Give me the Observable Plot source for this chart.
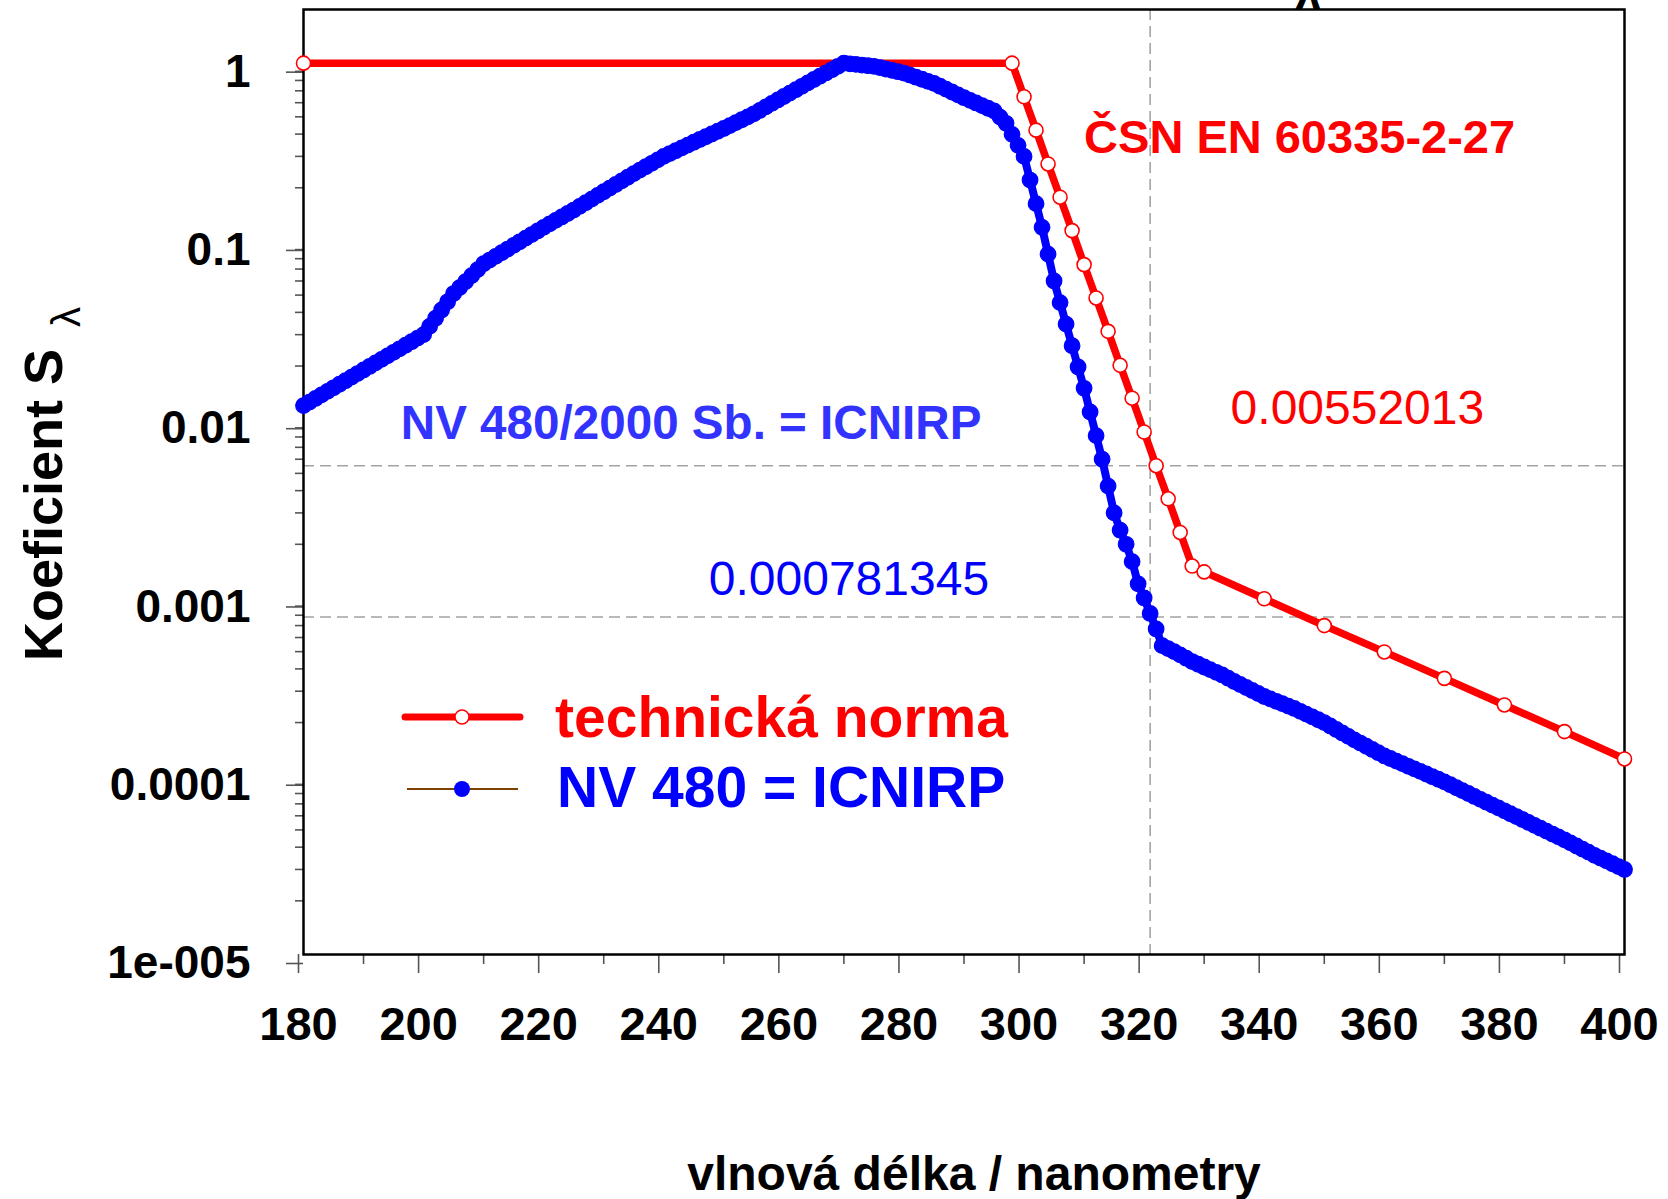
<!DOCTYPE html>
<html>
<head>
<meta charset="utf-8">
<script src="https://cdn.jsdelivr.net/npm/d3@7"></script>
<script src="https://cdn.jsdelivr.net/npm/@observablehq/plot@0.6"></script>
<style>
  html, body { margin: 0; padding: 0; background: #ffffff; }
  #chart svg { display: block; }
</style>
</head>
<body>
<div id="chart"></div>
<script>
// ---- Data ----
const nvWavelengths = [
  180,181,182,183,184,185,186,187,188,189,190,191,192,193,194,195,196,197,198,199,
  200,201,202,203,204,205,206,207,208,209,210,211,212,213,214,215,216,217,218,219,
  220,221,222,223,224,225,226,227,228,229,230,231,232,233,234,235,236,237,238,239,
  240,241,242,243,244,245,246,247,248,249,250,251,252,253,254,255,256,257,258,259,
  260,261,262,263,264,265,266,267,268,269,270,271,272,273,274,275,276,277,278,279,
  280,281,282,283,284,285,286,287,288,289,290,291,292,293,294,295,296,297,298,299,
  300,301,302,303,304,305,306,307,308,309,310,311,312,313,314,315,316,317,318,319,
  320,321,322,323,324,325,326,327,328,329,330,331,332,333,334,335,336,337,338,339,
  340,341,342,343,344,345,346,347,348,349,350,351,352,353,354,355,356,357,358,359,
  360,361,362,363,364,365,366,367,368,369,370,371,372,373,374,375,376,377,378,379,
  380,381,382,383,384,385,386,387,388,389,390,391,392,393,394,395,396,397,398,399,
  400
];
const nvValues = [
  0.0120,0.01256,0.01316,0.01378,0.01442,0.01510,0.01581,0.01655,0.01733,0.01815,
  0.0190,0.01989,0.02082,0.02179,0.02281,0.02388,0.02499,0.02616,0.02738,0.02866,
  0.0300,0.03336,0.03709,0.04124,0.04586,0.0510,0.05509,0.05951,0.06428,0.06943,
  0.0750,0.07863,0.08244,0.08643,0.09062,0.0950,0.09954,0.1043,0.1093,0.1145,
  0.120,0.1255,0.1312,0.1372,0.1434,0.150,0.1573,0.1649,0.1728,0.1812,
  0.190,0.1991,0.2086,0.2186,0.2291,0.240,0.2510,0.2624,0.2744,0.2869,
  0.300,0.3111,0.3227,0.3347,0.3471,0.360,0.3730,0.3865,0.4005,0.4150,
  0.430,0.4465,0.4637,0.4815,0.500,0.520,0.5437,0.5685,0.5945,0.6216,
  0.650,0.6793,0.7098,0.7418,0.7752,0.810,0.8449,0.8812,0.9191,0.9587,
  1.000,0.9919,0.9838,0.9758,0.9679,0.960,0.9434,0.9272,0.9112,0.8955,
  0.880,0.8568,0.8342,0.8122,0.7908,0.770,0.7420,0.7151,0.6892,0.6641,
  0.640,0.6186,0.5980,0.5780,0.5587,0.540,0.4984,0.460,0.3989,0.3459,
  0.300,0.2210,0.1629,0.120,0.08485,0.060,0.0454,0.03436,0.026,0.01975,
  0.015,0.01105,0.008143,0.006,0.004243,0.003,0.0024,0.0020,0.0016,0.0012,
  0.0010,0.0008185,0.00067,0.00054,0.0005196,0.0005,0.0004791,0.0004592,0.00044,0.0004247,
  0.00041,0.0003962,0.0003829,0.00037,0.0003547,0.00034,0.000327,0.0003146,0.0003027,0.0002911,
  0.00028,0.0002715,0.0002633,0.0002553,0.0002475,0.00024,0.0002314,0.0002231,0.0002151,0.0002074,
  0.0002,0.0001913,0.0001829,0.0001749,0.0001673,0.00016,0.0001535,0.0001473,0.0001413,0.0001355,
  0.00013,0.0001257,0.0001216,0.0001176,0.0001137,0.00011,0.0001064,0.0001029,0.0000994,0.0000962,
  0.000093,0.0000896,0.0000862,0.000083,0.00008,0.000077,0.0000742,0.0000715,0.0000689,0.0000664,
  0.000064,0.0000616,0.0000594,0.0000572,0.0000551,0.000053,0.0000511,0.0000492,0.0000474,0.0000457,
  0.000044,0.0000423,0.0000406,0.000039,0.0000375,0.000036,0.0000347,0.0000335,0.0000323,0.0000311,
  0.00003
];
const normWavelengths = [180, 298, 300, 302, 304, 306, 308, 310, 312, 314, 316, 318, 320, 322, 324, 326, 328, 330, 340, 350, 360, 370, 380, 390, 400];
const normValues = [1, 1, 0.648, 0.421, 0.272, 0.177, 0.115, 0.0741, 0.0482, 0.0313, 0.0202, 0.0132, 0.00853, 0.00552, 0.00360, 0.00233, 0.00151, 0.00140, 0.00099, 0.000700, 0.000498, 0.000354, 0.000251, 0.000178, 0.000125];

const xTicks = [180, 200, 220, 240, 260, 280, 300, 320, 340, 360, 380, 400];
const xMinorTicks = [190, 210, 230, 250, 270, 290, 310, 330, 350, 370, 390];
const yTicks = [1e-5, 1e-4, 1e-3, 1e-2, 1e-1, 1];
const yTickLabels = ["1e-005", "0.0001", "0.001", "0.01", "0.1", "1"];
const yMinorTicks = [
  2e-5,3e-5,4e-5,5e-5,6e-5,7e-5,8e-5,9e-5,
  2e-4,3e-4,4e-4,5e-4,6e-4,7e-4,8e-4,9e-4,
  2e-3,3e-3,4e-3,5e-3,6e-3,7e-3,8e-3,9e-3,
  2e-2,3e-2,4e-2,5e-2,6e-2,7e-2,8e-2,9e-2,
  0.2,0.3,0.4,0.5,0.6,0.7,0.8,0.9
];
const refLevels = [0.00552013, 0.000781345];
const refLevelLabels = ["0.00552013", "0.000781345"];
const refWavelengths = [321];
const seriesNames = ["technická norma", "NV 480 = ICNIRP"];
const annotationTitles = ["ČSN EN 60335-2-27", "NV 480/2000 Sb. = ICNIRP"];
const xLabel = "vlnová délka / nanometry";
const yLabel = "Koeficient S";
const yLabelSub = "λ";

// ---- Tables built from the arrays ----
const nv = nvWavelengths.map((x, i) => ({x, y: nvValues[i]}));
const norm = normWavelengths.map((x, i) => ({x, y: normValues[i]}));

const FONT = "'Liberation Sans', Arial, sans-serif";
const RED = "#ff0000", BLUE = "#0000ff";
const W = 1668, H = 1199;

const plot = Plot.plot({
  width: W,
  height: H,
  marginLeft: 303,
  marginRight: 44,
  marginTop: 9,
  marginBottom: 245,
  style: {fontFamily: FONT, background: "#ffffff", overflow: "visible", color: "black"},
  x: {domain: [180, 400]},
  y: {type: "log", domain: [1e-5, 2]},
  marks: [
    Plot.ruleY(refLevels, {stroke: "#a3a3a3", strokeWidth: 1.6, strokeDasharray: "11,6"}),
    Plot.ruleX(refWavelengths, {stroke: "#a3a3a3", strokeWidth: 1.6, strokeDasharray: "11,6"}),
    Plot.axisX({ticks: xMinorTicks, tickSize: 10, fill: "none", stroke: "#555", strokeWidth: 1.6, label: null}),
    Plot.axisX({ticks: xTicks, tickSize: 19, tickPadding: 33, tickFormat: d => String(d),
      fontSize: 47, fontWeight: "bold", fill: "black", stroke: "#555", strokeWidth: 1.6, label: null, dx: -5}),
    Plot.axisY({ticks: yMinorTicks, tickSize: 8, fill: "none", stroke: "#555", strokeWidth: 1.6, label: null}),
    Plot.axisY({ticks: yTicks, tickSize: 17, tickPadding: 36,
      tickFormat: d => yTickLabels[yTicks.indexOf(d)],
      fontSize: 46, fontWeight: "bold", fill: "black", stroke: "#555", strokeWidth: 1.6, label: null, dy: 9}),
    Plot.frame({stroke: "black", strokeWidth: 2.5}),
    Plot.line(norm, {x: "x", y: "y", stroke: RED, strokeWidth: 7.5}),
    Plot.line(nv, {x: "x", y: "y", stroke: BLUE, strokeWidth: 8}),
    Plot.dot(nv, {x: "x", y: "y", r: 7.8, fill: BLUE, stroke: BLUE, strokeWidth: 1.2}),
    Plot.dot(norm, {x: "x", y: "y", r: 7, fill: "white", stroke: RED, strokeWidth: 1.6}),
    Plot.text([annotationTitles[0]], {x: 310, y: 0.379, text: d => d, textAnchor: "start",
      fontSize: 47, fontWeight: "bold", fill: RED}),
    Plot.text([annotationTitles[1]], {x: 196.2, y: 0.00947, text: d => d, textAnchor: "start",
      fontSize: 47.6, fontWeight: "bold", fill: "#3333ff"}),
    Plot.text([refLevelLabels[0]], {x: 334.4, y: 0.0115, text: d => d, textAnchor: "start",
      fontSize: 48, fill: RED}),
    Plot.text([refLevelLabels[1]], {x: 247.5, y: 0.00126, text: d => d, textAnchor: "start",
      fontSize: 48, fill: BLUE})
  ]
});

document.getElementById("chart").appendChild(plot);

// ---- Legend, axis titles (added on top of the Plot SVG) ----
const svg = d3.select(plot);
const g = svg.append("g").attr("font-family", FONT).attr("text-anchor", "start");

// legend: technická norma
g.append("line").attr("x1", 405).attr("x2", 520).attr("y1", 717).attr("y2", 717)
  .attr("stroke", RED).attr("stroke-width", 7).attr("stroke-linecap", "round");
g.append("circle").attr("cx", 462).attr("cy", 717).attr("r", 7)
  .attr("fill", "white").attr("stroke", RED).attr("stroke-width", 1.5);
g.append("text").attr("x", 555).attr("y", 737).attr("text-anchor", "start")
  .attr("font-size", 57).attr("font-weight", "bold")
  .attr("fill", RED).text(seriesNames[0]);

// legend: NV 480 = ICNIRP
g.append("line").attr("x1", 407).attr("x2", 518).attr("y1", 789).attr("y2", 789)
  .attr("stroke", "#804000").attr("stroke-width", 2.2);
g.append("circle").attr("cx", 462).attr("cy", 789).attr("r", 8).attr("fill", BLUE);
g.append("text").attr("x", 557).attr("y", 807).attr("text-anchor", "start")
  .attr("font-size", 57).attr("font-weight", "bold")
  .attr("fill", BLUE).text(seriesNames[1]);

// x axis title
g.append("text").attr("x", 974).attr("y", 1190).attr("text-anchor", "middle")
  .attr("font-size", 48).attr("font-weight", "bold").attr("fill", "black").text(xLabel);

// y axis title with subscript lambda
const yt = g.append("text").attr("transform", "translate(62,661) rotate(-90)")
  .attr("text-anchor", "start").attr("font-size", 54).attr("font-weight", "bold").attr("fill", "black");
yt.append("tspan").text(yLabel);
yt.append("tspan").attr("dx", 22).attr("dy", 18).attr("font-size", 40).attr("font-weight", "normal").text(yLabelSub);

// clipped lambda at the very top (remnant of a cut-off title)
g.append("text").attr("x", 1308).attr("y", 9).attr("text-anchor", "middle")
  .attr("font-size", 46).attr("font-weight", "bold").attr("fill", "black").text(yLabelSub);
</script>
</body>
</html>
